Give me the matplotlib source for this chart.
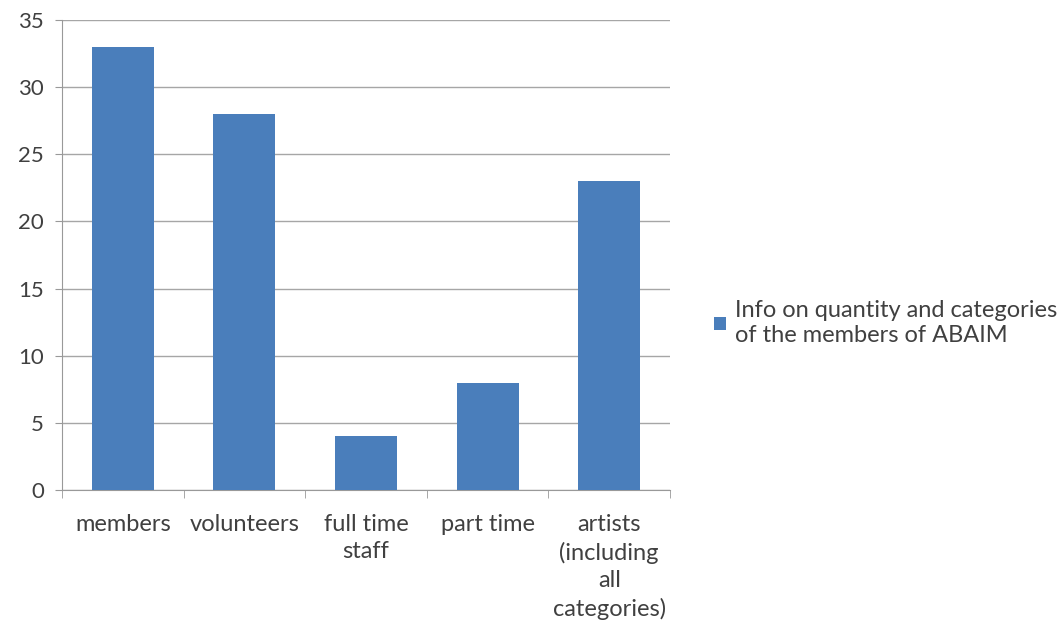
import matplotlib
matplotlib.use("Agg")
import matplotlib.pyplot as plt
import numpy as np

categories = ["members", "volunteers", "full time\nstaff", "part time",
              "artists\n(including\nall\ncategories)"]
values = [33, 28, 4, 8, 23]
series_label = "Info on quantity and categories\nof the members of ABAIM"
yticks = [0, 5, 10, 15, 20, 25, 30, 35]

plt.rcParams['font.family'] = ['Lato', 'DejaVu Sans']

fig = plt.figure(figsize=(10.64, 6.35), dpi=100)
ax = fig.add_axes([0.0583, 0.2283, 0.5714, 0.7402])

x = np.arange(len(categories))
bars = ax.bar(x, values, width=0.51, color="#4a7ebb", label=series_label, zorder=3)

ax.set_xlim(-0.5, len(categories) - 0.5)
ax.set_ylim(0, 35)
ax.set_yticks(yticks)
ax.yaxis.grid(True, color="#a6a6a6", linewidth=1.0, zorder=0)
ax.set_xticks(x)
ax.set_xticklabels(categories, fontsize=17, color="#404040", linespacing=1.38)
ax.set_xticks(np.arange(-0.5, len(categories)), minor=True)
ax.tick_params(axis='x', which='major', length=0, pad=17)
ax.tick_params(axis='x', which='minor', length=6, color="#999999")
ax.tick_params(axis='y', length=5, color="#999999", labelsize=16, labelcolor="#404040", pad=8)

for s in ['top', 'right']:
    ax.spines[s].set_visible(False)
ax.spines['left'].set_color("#999999")
ax.spines['bottom'].set_color("#999999")

leg = ax.legend(loc='center left', bbox_to_anchor=(1.072, 0.355), frameon=False,
                fontsize=17, handlelength=0.5, handleheight=0.5, handletextpad=0.4,
                borderpad=0, borderaxespad=0, labelcolor="#404040")
for t in leg.get_texts():
    t.set_linespacing(1.25)

fig.savefig("out.png", dpi=100)
